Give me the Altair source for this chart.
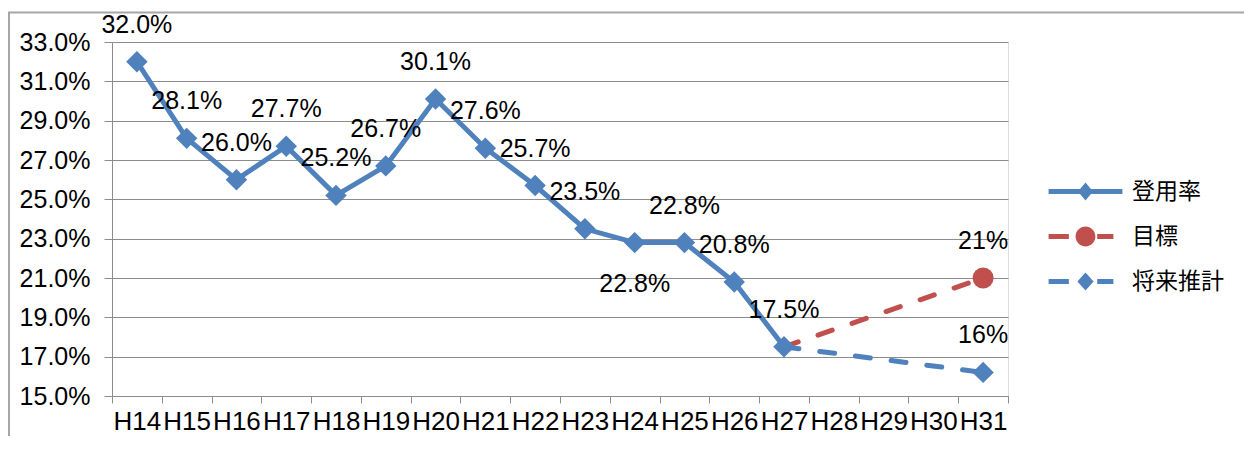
import altair as alt
import pandas as pd

categories = ["H14", "H15", "H16", "H17", "H18", "H19", "H20", "H21", "H22",
              "H23", "H24", "H25", "H26", "H27", "H28", "H29", "H30", "H31"]
rate_years = ["H14", "H15", "H16", "H17", "H18", "H19", "H20", "H21", "H22",
              "H23", "H24", "H25", "H26", "H27"]
rate_values = [32.0, 28.1, 26.0, 27.7, 25.2, 26.7, 30.1, 27.6, 25.7,
               23.5, 22.8, 22.8, 20.8, 17.5]
target_years = ["H27", "H31"]
target_values = [17.5, 21.0]
target_labels = ["", "21%"]
proj_years = ["H27", "H31"]
proj_values = [17.5, 16.2]
proj_labels = ["", "16%"]
below_label_years = ["H24"]
series_names = ["登用率", "目標", "将来推計"]
series_colors = ["#4F81BD", "#C0504D", "#4F81BD"]
y_ticks = [15, 17, 19, 21, 23, 25, 27, 29, 31, 33]

rows = []
for x, v in zip(rate_years, rate_values):
    rows.append(dict(x=x, value=v, series="登用率", label=f"{v:.1f}%",
                     marker=True, below=x in below_label_years))
for x, v, l in zip(target_years, target_values, target_labels):
    rows.append(dict(x=x, value=v, series="目標", label=l, marker=bool(l), below=False))
for x, v, l in zip(proj_years, proj_values, proj_labels):
    rows.append(dict(x=x, value=v, series="将来推計", label=l, marker=bool(l), below=False))
df = pd.DataFrame(rows)

BLUE, RED = series_colors[0], series_colors[1]
FONT = "Liberation Sans"

# legend symbol paths (unit = 9px)
path_solid = ("M-4.1,-0.28 L4.1,-0.28 L4.1,0.28 L-4.1,0.28 Z "
              "M0,-1 L0.83,0 L0,1 L-0.83,0 Z")
path_target = ("M-4.1,-0.28 L-1.85,-0.28 L-1.85,0.28 L-4.1,0.28 Z "
               "M-1.1,0 A1.1,1.1 0 1 1 1.1,0 A1.1,1.1 0 1 1 -1.1,0 Z "
               "M1.3,-0.28 L3.1,-0.28 L3.1,0.28 L1.3,0.28 Z")
path_proj = ("M-4.1,-0.28 L-1.85,-0.28 L-1.85,0.28 L-4.1,0.28 Z "
             "M0,-1 L0.9,0 L0,1 L-0.9,0 Z "
             "M1.3,-0.28 L3.1,-0.28 L3.1,0.28 L1.3,0.28 Z")

x_enc = alt.X("x:N",
              scale=alt.Scale(domain=categories, paddingInner=0, paddingOuter=0),
              axis=alt.Axis(title=None, labelAngle=0, tickBand="extent",
                            labelFont=FONT, labelFontSize=26, labelColor="black",
                            domainColor="#8C8C8C", tickColor="#8C8C8C",
                            tickSize=7, labelPadding=5, grid=False))
y_enc = alt.Y("value:Q",
              scale=alt.Scale(domain=[15, 33], nice=False, zero=False),
              axis=alt.Axis(title=None, values=y_ticks,
                            labelExpr="format(datum.value, '.1f') + '%'",
                            labelFont=FONT, labelFontSize=25, labelColor="black",
                            domainColor="#8C8C8C", tickColor="#8C8C8C",
                            gridColor="#8C8C8C", gridWidth=1.2,
                            tickSize=8, labelPadding=14))

base = alt.Chart(df)

frame = alt.Chart(pd.DataFrame({"a": [0]})).mark_rect(
    fillOpacity=0, stroke="#A6A6A6", strokeWidth=2
).encode(x=alt.value(-103), x2=alt.value(3000), y=alt.value(-29.5), y2=alt.value(3000))

line_rate = base.mark_line(color=BLUE, strokeWidth=5).encode(
    x=x_enc, y=y_enc).transform_filter("datum.series == '登用率'")
line_target = base.mark_line(color=RED, strokeWidth=5, strokeDash=[15, 21],
                             strokeCap="round").encode(
    x=x_enc, y=y_enc).transform_filter("datum.series == '目標'")
line_proj = base.mark_line(color=BLUE, strokeWidth=5, strokeDash=[15, 21],
                           strokeCap="round").encode(
    x=x_enc, y=y_enc).transform_filter("datum.series == '将来推計'")

pts_rate = base.mark_point(shape="diamond", filled=True, color=BLUE, size=460,
                           opacity=1).encode(
    x=x_enc, y=y_enc).transform_filter("datum.series == '登用率'")
pts_target = base.mark_point(shape="circle", filled=True, color=RED, size=441,
                             opacity=1).encode(
    x=x_enc, y=y_enc).transform_filter("datum.series == '目標' && datum.marker")
pts_proj = base.mark_point(shape="diamond", filled=True, color=BLUE, size=460,
                           opacity=1).encode(
    x=x_enc, y=y_enc).transform_filter("datum.series == '将来推計' && datum.marker")

labels_above = base.mark_text(font=FONT, fontSize=25, color="black", dy=-37).encode(
    x=x_enc, y=y_enc, text="label:N"
).transform_filter("datum.label != '' && !datum.below")
labels_below = base.mark_text(font=FONT, fontSize=25, color="black", dy=41).encode(
    x=x_enc, y=y_enc, text="label:N"
).transform_filter("datum.label != '' && datum.below")

legend_spec = alt.Legend(title=None, orient="none", legendX=962, legendY=138,
                         symbolSize=324, symbolStrokeWidth=0, symbolOpacity=1,
                         labelFont="Noto Sans CJK JP", labelFontSize=23,
                         labelColor="black", labelOffset=35, rowPadding=21,
                         padding=0)
legend_layer = base.mark_point(filled=True, opacity=0).encode(
    x=x_enc, y=y_enc,
    color=alt.Color("series:N", scale=alt.Scale(domain=series_names, range=series_colors),
                    legend=legend_spec),
    shape=alt.Shape("series:N", scale=alt.Scale(domain=series_names,
                                                range=[path_solid, path_target, path_proj]),
                    legend=legend_spec),
).transform_filter("datum.marker")

chart = alt.layer(
    frame, legend_layer, line_rate, line_target, line_proj,
    pts_rate, pts_target, pts_proj, labels_above, labels_below
).properties(
    width=896, height=354,
    autosize=alt.AutoSizeParams(type="none"),
    padding={"left": 104, "top": 34, "right": 236, "bottom": 40},
).configure_view(stroke="transparent").configure(background="white")

chart.save("out.html", embed_options={"renderer": "svg", "actions": False})
